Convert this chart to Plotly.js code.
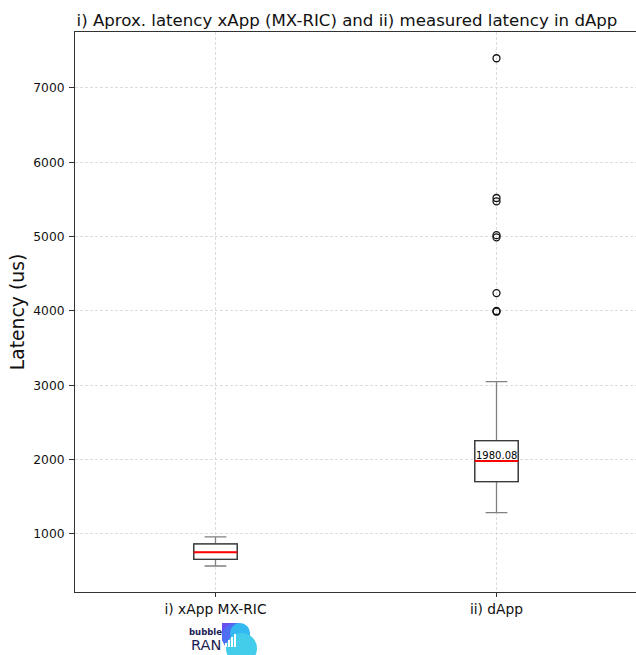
<!DOCTYPE html>
<html>
<head>
<meta charset="utf-8">
<script src="https://cdn.plot.ly/plotly-3.0.1.min.js"></script>
<style>html,body{margin:0;padding:0;background:#fff;}#chart{width:636px;height:655px;}</style>
</head>
<body>
<div id="chart"></div>
<script>
// ---- data ----
const categories = ["i) xApp MX-RIC", "ii) dApp"];
const positions = [1, 2];
const q1 = [659, 1703];
const medians = [753, 1980.08];
const q3 = [866, 2255];
const lowerWhisker = [569, 1286];
const upperWhisker = [960, 3049];
const dAppOutliers = [7400, 5520, 5475, 5020, 4990, 4240, 4000, 3990];
const yTicks = [1000, 2000, 3000, 4000, 5000, 6000, 7000];

const W = 636, H = 655;
const L = 75, T = 32, B = 63, R = 0;
const plotW = W - L - R, plotH = H - T - B;
const boxWidth = 0.155;

function px(X) { return (X - L) / plotW; }
function py(Y) { return (H - B - Y) / plotH; }

const traces = [];
positions.forEach((p, i) => {
  traces.push({
    type: 'box',
    x: [p],
    q1: [q1[i]], median: [medians[i]], q3: [q3[i]],
    lowerfence: [lowerWhisker[i]], upperfence: [upperWhisker[i]],
    width: boxWidth,
    whiskerwidth: 0.5,
    fillcolor: 'rgba(255,255,255,1)',
    line: { color: '#808080', width: 1.3 },
    boxpoints: false,
    hoverinfo: 'skip',
    showlegend: false
  });
});
traces.push({
  type: 'scatter', mode: 'markers',
  x: dAppOutliers.map(() => positions[1]),
  y: dAppOutliers,
  marker: { symbol: 'circle-open', size: 7, color: '#111', line: { width: 1.3, color: '#111' } },
  showlegend: false, hoverinfo: 'skip'
});

const shapes = [];
positions.forEach((p, i) => {
  shapes.push({
    type: 'rect', xref: 'x', yref: 'y', layer: 'above',
    x0: p - boxWidth / 2, x1: p + boxWidth / 2, y0: q1[i], y1: q3[i],
    line: { color: '#3a3a3a', width: 1.3 }, fillcolor: 'rgba(0,0,0,0)'
  });
  shapes.push({
    type: 'line', xref: 'x', yref: 'y', layer: 'above',
    x0: p - boxWidth / 2, x1: p + boxWidth / 2, y0: medians[i], y1: medians[i],
    line: { color: '#ff0000', width: 2 }
  });
});
// logo shapes (paper coordinates)
shapes.push({ type: 'rect', xref: 'paper', yref: 'paper', layer: 'above',
  x0: px(222), x1: px(236), y0: py(641), y1: py(623),
  line: { width: 0 }, fillcolor: '#6a4ff0' });
shapes.push({ type: 'circle', xref: 'paper', yref: 'paper', layer: 'above',
  x0: px(222), x1: px(250), y0: py(651), y1: py(623),
  line: { width: 0 }, fillcolor: '#4f6ff2' });
shapes.push({ type: 'circle', xref: 'paper', yref: 'paper', layer: 'above',
  x0: px(230), x1: px(250), y0: py(643), y1: py(623),
  line: { width: 0 }, fillcolor: '#33b9f0' });
shapes.push({ type: 'circle', xref: 'paper', yref: 'paper', layer: 'above',
  x0: px(226), x1: px(257), y0: py(664), y1: py(633),
  line: { width: 0 }, fillcolor: '#44cdea' });
// small white bars of logo
[[225, 643], [228, 640], [231, 637], [234, 634]].forEach(b => {
  shapes.push({ type: 'rect', xref: 'paper', yref: 'paper', layer: 'above',
    x0: px(b[0]), x1: px(b[0] + 2), y0: py(647), y1: py(b[1]),
    line: { width: 0 }, fillcolor: '#ffffff' });
});

const annotations = [
  { xref: 'x', yref: 'y', x: positions[1], y: medians[1], text: medians[1].toFixed(2),
    showarrow: false, yanchor: 'bottom', yshift: -2,
    font: { family: 'DejaVu Sans', size: 10, color: '#000' } },
  { xref: 'paper', yref: 'paper', x: px(205), y: py(632), text: '<b>bubble</b>',
    showarrow: false, xanchor: 'center', yanchor: 'middle',
    font: { family: 'DejaVu Sans', size: 8.5, color: '#1c1c55' } },
  { xref: 'paper', yref: 'paper', x: px(206), y: py(645), text: 'RAN',
    showarrow: false, xanchor: 'center', yanchor: 'middle',
    font: { family: 'DejaVu Sans', size: 14.5, color: '#1c1c55' } }
];

const layout = {
  width: W, height: H,
  margin: { l: L, r: R, t: T, b: B, pad: 0 },
  paper_bgcolor: '#fff', plot_bgcolor: '#fff',
  font: { family: 'DejaVu Sans', color: '#222' },
  title: {
    text: 'i) Aprox. latency xApp (MX-RIC) and ii) measured latency in dApp',
    font: { family: 'DejaVu Sans', size: 16.6, color: '#111' },
    xref: 'paper', x: px(347), xanchor: 'center',
    yref: 'container', y: 1 - 20 / H, yanchor: 'middle'
  },
  xaxis: {
    range: [0.5, 0.5 + plotW / 281],
    tickmode: 'array', tickvals: positions, ticktext: categories,
    ticks: 'outside', ticklen: 4, tickcolor: '#333', tickwidth: 1,
    tickfont: { family: 'DejaVu Sans', size: 13.8, color: '#111' },
    showgrid: true, gridcolor: '#d3d3d3', griddash: '3px,2px', gridwidth: 0.8,
    zeroline: false, showline: true, linecolor: '#333', linewidth: 1,
    mirror: true, fixedrange: true
  },
  yaxis: {
    range: [219, 7753],
    tickmode: 'array', tickvals: yTicks,
    ticks: 'outside', ticklen: 5, tickcolor: '#333', tickwidth: 1,
    ticklabelstandoff: 2,
    tickfont: { family: 'DejaVu Sans', size: 12.3, color: '#111' },
    showgrid: true, gridcolor: '#d3d3d3', griddash: '3px,2px', gridwidth: 0.8,
    zeroline: false, showline: true, linecolor: '#333', linewidth: 1,
    mirror: true,
    title: { text: 'Latency (us)', font: { family: 'DejaVu Sans', size: 18.8, color: '#111' }, standoff: 3 },
    fixedrange: true
  },
  shapes: shapes,
  annotations: annotations
};

Plotly.newPlot('chart', traces, layout, { displayModeBar: false, staticPlot: true });
</script>
</body>
</html>
